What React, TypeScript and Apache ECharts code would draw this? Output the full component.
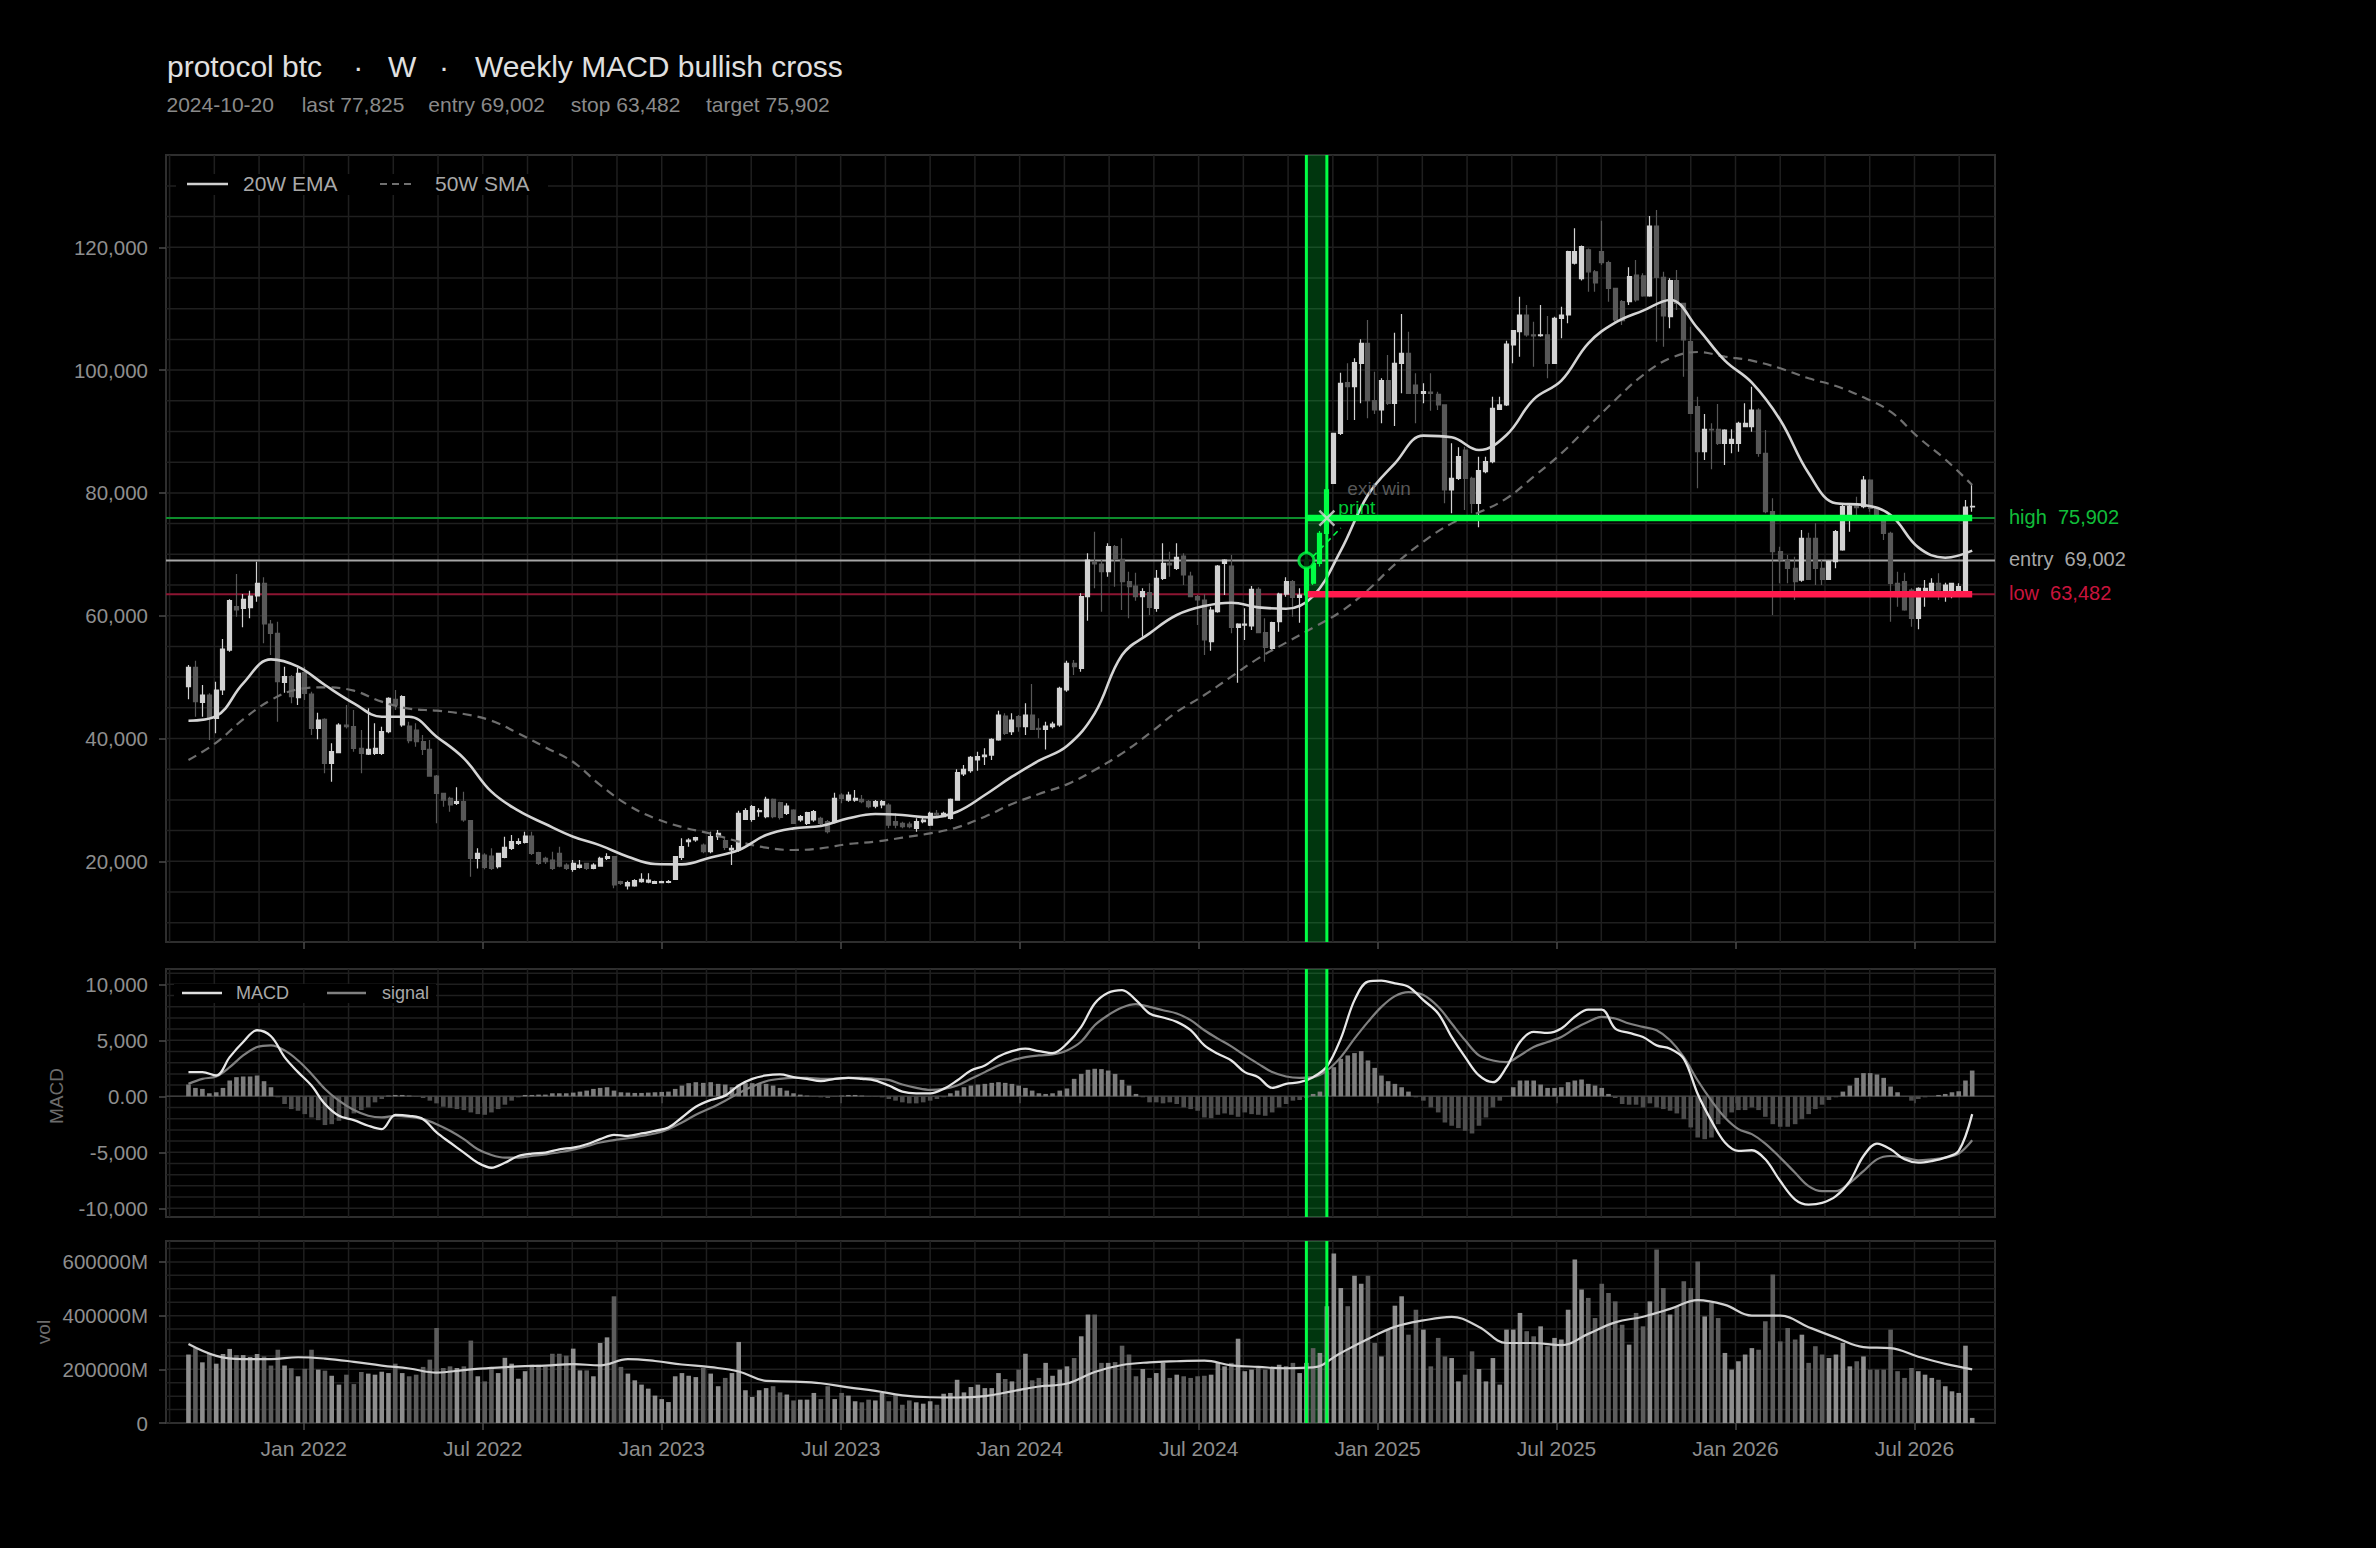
import React, { useEffect, useRef } from "react";
import * as echarts from "echarts";

// ---------- data (weekly, first week 2021-09-05) ----------
const START_DATE = Date.UTC(2021, 8, 5);
const WEEK_MS = 7 * 86400000;

const opens = [
  48440, 51590, 45890, 47080, 43280, 47900, 54410, 61470, 61200, 61310,
  63210, 65270, 58650, 57130, 49150, 50070, 46650, 50720, 47250, 41650,
  43120, 35950, 37690, 42200, 41930, 38400, 37470, 37580, 37580, 41110,
  46380, 42200, 42040, 41380, 39480, 38230, 33890, 31070, 30250, 29440,
  29710, 26620, 20480, 21020, 20860, 19120, 20650, 22110, 22920, 23090,
  24120, 21400, 20480, 20210, 21300, 19400, 18690, 19020, 19670, 18850,
  19230, 20480, 20750, 16680, 15980, 15980, 16680, 16620, 16410, 16520,
  16570, 17060, 20650, 23200, 23470, 22650, 21570, 24010, 23360, 21840,
  21840, 26830, 26830, 28080, 27270, 30090, 29550, 27810, 28350, 26730,
  26180, 26730, 27000, 26450, 26450, 30800, 29980, 29980, 30090, 29710,
  29000, 29170, 29170, 26450, 26180, 26070, 25370, 26450, 25910, 27810,
  27270, 27000, 29980, 34220, 34760, 36500, 37040, 37310, 39760, 43660,
  41110, 43550, 41930, 43830, 41650, 41490, 41930, 42200, 47900, 52240,
  51430, 63100, 68800, 68420, 67170, 71240, 69180, 65540, 64840, 63100,
  63750, 61200, 66090, 68530, 67710, 69720, 66470, 63100, 62560, 55770,
  60660, 68530, 68090, 58100, 58480, 58320, 64290, 57240, 54680, 59030,
  63530, 65540, 62990, 63400, 68500, 68500, 73400, 81560, 89700, 97950,
  97300, 101100, 104360, 95020, 93500, 98280, 94590, 101100, 102730, 97570,
  96220, 96430, 96050, 94320, 80470, 82370, 86990, 82370, 78300, 83460,
  85090, 93610, 94320, 104090, 106260, 108970, 105720, 105600, 105720, 101100,
  108430, 108970, 117400, 114900, 119600, 116000, 119300, 117500, 113320, 111150,
  111150, 115490, 115330, 112070, 123470, 115110, 108700, 114570, 110870, 104630,
  94040, 86710, 90350, 90350, 88070, 88070, 88070, 90790, 90790, 93500,
  86440, 76940, 70430, 69070, 67710, 65810, 72600, 72600, 67710, 65920,
  68800, 70700, 76400, 77870, 77760, 82100, 77480, 75860, 73410, 65270,
  65540, 64180, 59570, 63370, 63640, 65270, 63370, 63370, 63370, 63370,
  77700,
];

const closes = [
  51590, 46000, 47080, 43280, 47900, 54580, 62450, 60930, 62660, 63210,
  65270, 58650, 57130, 49260, 50070, 46810, 50610, 47360, 41650, 43010,
  35950, 37850, 42200, 41930, 38400, 37580, 38230, 38400, 41110, 46540,
  45460, 46810, 39650, 39480, 38230, 33890, 31070, 29980, 29170, 29710,
  26730, 20480, 21300, 19020, 18850, 21300, 22270, 23200, 23200, 24120,
  21300, 19670, 19940, 18850, 19230, 18850, 19670, 19400, 18850, 19400,
  20480, 20750, 16140, 16410, 16520, 16840, 17060, 16950, 16680, 16680,
  16680, 20750, 22380, 23470, 23850, 21570, 24010, 24550, 22270, 22110,
  27810, 28250, 28900, 28250, 30090, 27270, 27160, 29010, 26180, 27270,
  27920, 28080, 26180, 24820, 30250, 30250, 30800, 30250, 29710, 28900,
  29710, 29710, 25910, 25910, 25640, 25640, 26450, 26730, 27810, 27540,
  27810, 30090, 34430, 34980, 36930, 37040, 37310, 39860, 43820, 40840,
  43010, 41930, 43830, 41490, 41490, 42030, 42360, 48170, 52240, 51700,
  63100, 69070, 68420, 67170, 71240, 69180, 65540, 64730, 63100, 63910,
  61360, 66090, 68530, 68260, 69510, 66630, 63100, 62560, 56040, 60930,
  68090, 69070, 58100, 58650, 58650, 64290, 57240, 54850, 58860, 63530,
  65540, 62990, 63370, 69002, 65300, 73400, 80500, 89700, 97840, 97300,
  101210, 104360, 95020, 93500, 98280, 94590, 101100, 102730, 96220, 96220,
  96490, 96220, 94320, 80470, 82370, 85900, 82370, 78300, 83620, 85090,
  93770, 94320, 104250, 106420, 108970, 105720, 105550, 105720, 101100, 108430,
  108970, 119290, 119300, 120100, 116000, 114200, 117500, 113320, 108160, 108050,
  115220, 111420, 112070, 123470, 115110, 108810, 114570, 110870, 104900, 92960,
  86710, 90350, 90240, 88070, 90240, 88720, 91330, 91330, 93500, 86440,
  76940, 70430, 69070, 67710, 65540, 72600, 65920, 67710, 65920, 68800,
  73690, 77760, 77870, 77600, 82100, 77480, 75860, 73410, 65270, 63100,
  60930, 59570, 64460, 64460, 65270, 64180, 65000, 65270, 64730, 77700,
  77825,
];

const highs = [
  51970, 52670, 48710, 47360, 49260, 56200, 62660, 66790, 63530, 64080,
  68800, 66250, 59300, 59030, 51700, 50340, 51540, 51700, 47630, 44210,
  43280, 39210, 42470, 45460, 44640, 41380, 44910, 42470, 41930, 46700,
  47900, 47030, 42740, 42470, 40570, 39750, 34050, 31180, 30530, 32050,
  31340, 26730, 22110, 21300, 22110, 21400, 24010, 24280, 23740, 24820,
  24820, 21570, 20750, 21570, 22380, 19670, 20210, 20210, 19780, 19670,
  20750, 21300, 20860, 16840, 16840, 17060, 18040, 18040, 16840, 16840,
  16950, 20860, 23740, 23740, 24010, 22920, 24820, 25090, 23740, 22650,
  28250, 28630, 29170, 28630, 30530, 30250, 29710, 29440, 28460, 27540,
  28080, 28350, 27270, 26730, 31180, 31070, 31340, 31610, 30800, 29980,
  29980, 29980, 29440, 27810, 26450, 26450, 27000, 27270, 28080, 28350,
  28080, 30250, 34980, 35680, 37150, 37850, 38400, 40030, 44530, 44100,
  44100, 43830, 45730, 48880, 43280, 42740, 42740, 48440, 52680, 52780,
  63640, 70160, 73690, 69070, 71790, 71510, 72600, 67170, 67010, 64460,
  65270, 67440, 71790, 70430, 71790, 70160, 67170, 63370, 63530, 61470,
  68260, 69180, 69890, 58760, 61200, 64840, 64620, 59570, 59030, 63750,
  66250, 65810, 64460, 69600, 68900, 73800, 81600, 89810, 99580, 101100,
  101920, 105010, 108160, 99740, 98660, 102460, 106100, 109140, 106260, 99470,
  97840, 99470, 96490, 94320, 88070, 87420, 87530, 82640, 85900, 85900,
  95670, 95670, 104790, 106530, 111960, 110600, 107890, 110600, 108810, 108700,
  110330, 119450, 123090, 120300, 119800, 116300, 124340, 117820, 113430, 111420,
  116740, 117930, 115760, 125100, 126080, 116030, 114950, 116300, 110980, 107070,
  95670, 92850, 91330, 94480, 90350, 90350, 91600, 94590, 97300, 93770,
  90240, 79110, 71240, 69890, 69610, 73960, 73520, 75040, 69070, 68960,
  73960, 78190, 78030, 79390, 82750, 82210, 77760, 76130, 73690, 67170,
  67010, 64460, 64620, 65810, 66090, 66900, 65380, 65380, 65270, 78840,
  81290,
];

const lows = [
  46380, 43550, 43550, 39750, 40840, 47080, 54140, 59840, 58100, 59570,
  62280, 55500, 53600, 42740, 47470, 45730, 45460, 46270, 40570, 39860,
  34330, 32970, 37580, 41650, 37850, 34330, 37310, 37310, 37310, 40840,
  44640, 41930, 39210, 38670, 37310, 33780, 26180, 28900, 28080, 29170,
  26450, 17500, 18850, 18690, 18580, 18850, 20480, 21840, 22650, 22920,
  21020, 19400, 19560, 18580, 19020, 18580, 18310, 18850, 18580, 18690,
  19120, 20210, 15600, 16140, 15430, 15870, 16520, 16410, 16300, 16410,
  16410, 16950, 20210, 22380, 23200, 21300, 21300, 23470, 21840, 19400,
  21570, 26730, 26450, 27270, 27000, 27000, 26830, 27540, 26070, 26450,
  25910, 26450, 25910, 24550, 26180, 29440, 29710, 29710, 29440, 28630,
  28630, 28630, 25370, 25370, 25370, 25370, 24820, 26180, 25750, 27270,
  27160, 26830, 29870, 33890, 34430, 34760, 35680, 36500, 39650, 40570,
  40570, 41110, 40570, 41380, 40030, 38230, 41650, 41930, 47630, 50340,
  50880, 59190, 64460, 60660, 66360, 64730, 60930, 59570, 62450, 56580,
  60110, 60660, 65810, 66360, 67440, 65000, 62990, 58480, 53600, 54300,
  60490, 63370, 57130, 49090, 56040, 57670, 57130, 52510, 54410, 57400,
  63100, 59840, 58870, 62600, 65000, 68000, 72500, 81450, 89430, 91870,
  91870, 94590, 92140, 92850, 91330, 94320, 90890, 96220, 96110, 91330,
  94590, 93390, 93500, 78300, 76670, 82100, 77210, 76670, 74390, 83190,
  84810, 93500, 94150, 101100, 102190, 105440, 100560, 105440, 98660, 100990,
  105170, 107620, 117200, 114600, 112770, 112770, 117100, 111150, 107890, 107340,
  110600, 111150, 111960, 111960, 104630, 103820, 106800, 109790, 98930, 92850,
  80740, 85360, 83840, 87800, 84540, 86440, 86710, 90790, 89970, 85900,
  76670, 60110, 65270, 65270, 62560, 65540, 65810, 65000, 65000, 65810,
  67710, 70590, 73690, 75860, 77480, 76940, 75590, 72330, 59030, 61470,
  60820, 58210, 57780, 61470, 63100, 62560, 62290, 62830, 63100, 63210,
  76940,
];

// weekly volume, in millions
const volumes = [
  255000, 279000, 226000, 261000, 221000, 257000, 276000, 253000, 253000, 246000,
  257000, 248000, 214000, 273000, 214000, 204000, 174000, 202000, 273000, 199000,
  195000, 176000, 143000, 180000, 145000, 190000, 184000, 180000, 191000, 186000,
  221000, 186000, 174000, 180000, 209000, 236000, 354000, 205000, 211000, 205000,
  211000, 307000, 174000, 155000, 209000, 186000, 243000, 221000, 165000, 193000,
  217000, 217000, 209000, 258000, 258000, 251000, 277000, 196000, 196000, 174000,
  298000, 319000, 472000, 209000, 184000, 159000, 143000, 128000, 102000, 89000,
  78000, 174000, 186000, 176000, 171000, 205000, 184000, 137000, 168000, 186000,
  302000, 122000, 97000, 122000, 130000, 137000, 114000, 106000, 84000, 87000,
  87000, 112000, 89000, 137000, 89000, 112000, 102000, 81000, 77000, 87000,
  84000, 112000, 81000, 106000, 68000, 84000, 77000, 72000, 81000, 68000,
  109000, 112000, 161000, 114000, 134000, 143000, 130000, 130000, 186000, 164000,
  155000, 199000, 258000, 159000, 168000, 224000, 176000, 199000, 211000, 242000,
  323000, 404000, 404000, 224000, 224000, 227000, 288000, 255000, 174000, 201000,
  168000, 186000, 224000, 168000, 180000, 174000, 168000, 174000, 176000, 180000,
  224000, 211000, 224000, 314000, 193000, 199000, 205000, 199000, 205000, 217000,
  211000, 224000, 186000, 224000, 279000, 261000, 435000, 631000, 503000, 435000,
  549000, 519000, 549000, 298000, 248000, 348000, 437000, 472000, 329000, 422000,
  348000, 211000, 317000, 248000, 242000, 155000, 180000, 267000, 201000, 155000,
  242000, 143000, 348000, 348000, 410000, 342000, 323000, 360000, 286000, 317000,
  311000, 422000, 609000, 497000, 466000, 391000, 519000, 484000, 453000, 366000,
  292000, 410000, 360000, 453000, 646000, 503000, 404000, 435000, 528000, 503000,
  602000, 397000, 447000, 391000, 261000, 199000, 230000, 255000, 279000, 273000,
  379000, 553000, 304000, 354000, 311000, 329000, 224000, 286000, 255000, 242000,
  255000, 298000, 211000, 230000, 248000, 199000, 199000, 199000, 348000, 193000,
  168000, 205000, 193000, 180000, 168000, 161000, 137000, 118000, 112000, 288000,
  19000,
];

const macdHist = [
  1050, 750, 660, 270, 360, 750, 1410, 1710, 1770, 1770,
  1860, 1350, 810, -90, -690, -1140, -1290, -1590, -1890, -2130,
  -2570, -2490, -2190, -1890, -1530, -1230, -990, -540, -240, 60,
  120, 120, 60, -30, -150, -390, -630, -930, -1050, -1140,
  -1230, -1440, -1590, -1650, -1440, -1140, -750, -390, -90, 120,
  120, 150, 150, 270, 270, 270, 330, 420, 510, 660,
  750, 810, 510, 360, 330, 300, 300, 330, 360, 390,
  420, 660, 960, 1170, 1260, 1200, 1260, 1110, 1050, 810,
  1050, 1170, 1170, 1110, 1110, 960, 750, 510, 270, 150,
  60, -30, -90, -150, -30, 60, 120, 120, 60, -30,
  -30, -90, -240, -390, -540, -630, -630, -540, -390, -240,
  -90, 270, 510, 810, 960, 1050, 1110, 1200, 1260, 1200,
  1110, 960, 750, 510, 270, 210, 270, 510, 700, 1560,
  2000, 2370, 2460, 2430, 2300, 2000, 1470, 960, 210, -90,
  -540, -540, -630, -540, -690, -990, -1140, -1290, -1890, -1950,
  -1650, -1530, -1650, -1830, -1440, -1590, -1650, -1740, -1440, -990,
  -690, -390, -330, -150, 210, 420, 2250, 2600, 3350, 3650,
  3860, 4040, 3200, 2540, 1860, 1350, 1110, 810, 420, -90,
  -390, -990, -1440, -2340, -2630, -2840, -3080, -3320, -2630, -1890,
  -990, -390, -30, 810, 1410, 1410, 1410, 1050, 750, 750,
  810, 1260, 1410, 1500, 1110, 960, 750, 210, -150, -690,
  -750, -750, -990, -630, -990, -1140, -1290, -1530, -2040, -2780,
  -3680, -3830, -3680, -2490, -1890, -1440, -1230, -1230, -990, -1230,
  -1830, -2490, -2720, -2720, -2490, -2040, -1590, -1140, -750, -330,
  -90, 420, 960, 1650, 2070, 2070, 1950, 1650, 870, 360,
  -30, -390, -240, -90, -30, 120, 210, 360, 450, 1410,
  2300,
];

// indicator lines, one value every 4 weeks (weeks 0,4,...,260)
const ema20Every4 = [
  42900, 43660, 48980, 52890, 51700, 48710, 45730, 43550, 43550, 40300,
  36770, 31340, 28250, 26070, 24010, 22600, 20750, 19560, 19500, 20640,
  21840, 24280, 25370, 25750, 27000, 27700, 27540, 27160, 28080, 30800,
  33780, 36380, 38780, 44100, 53600, 57130, 60110, 61580, 62120, 61360,
  61140, 63200, 70600, 79650, 84810, 89320, 89050, 86980, 89430, 95240,
  98280, 104360, 107720, 109680, 111420, 106800, 101540, 97950, 91870, 83190,
  78300, 78030, 76400, 71130, 69450, 70590,
];
const sma50Every4 = [
  36500, 39320, 43120, 46270, 48010, 48330, 47790, 46000, 44860, 44530,
  43990, 42900, 40840, 38560, 36170, 32430, 29170, 27000, 25580, 24500,
  23200, 22220, 21840, 22110, 22820, 23200, 23850, 24550, 25530, 27270,
  29330, 30960, 32530, 34870, 37580, 40840, 44320, 47080, 50070, 53060,
  55610, 58050, 60660, 64190, 68370, 72060, 75040, 76830, 79110, 82640,
  86440, 90790, 95130, 99200, 101920, 102950, 102190, 101540, 100290, 98660,
  97410, 95560, 93230, 89050, 85460, 81290,
];
const volMaEvery4 = [
  294000, 250000, 238000, 238000, 245000, 240000, 228000, 214000, 203000, 188000,
  197000, 205000, 211000, 214000, 219000, 215000, 238000, 231000, 218000, 208000,
  192000, 157000, 154000, 148000, 133000, 120000, 103000, 96000, 95000, 100000,
  118000, 136000, 147000, 190000, 216000, 226000, 230000, 232000, 215000, 209000,
  204000, 207000, 261000, 313000, 358000, 382000, 395000, 358000, 298000, 298000,
  290000, 332000, 375000, 396000, 425000, 458000, 440000, 400000, 400000, 357000,
  318000, 283000, 279000, 247000, 220000, 200000,
];
// MACD and signal, one value every 2 weeks (weeks 0,2,...,260)
const macdEvery2 = [
  2156, 2156, 1856, 3500, 4850, 5900, 5360, 3500, 2156, 960,
  -690, -1740, -2130, -2630, -2930, -1650, -1740, -2040, -3230, -4130,
  -5030, -5930, -6380, -5930, -5330, -5120, -5030, -4730, -4580, -4280,
  -3830, -3440, -3530, -3320, -3080, -2780, -1890, -930, -330, 60,
  960, 1560, 1860, 1950, 1710, 1560, 1350, 1560, 1650, 1560,
  1410, 960, 420, 270, 270, 660, 1410, 2300, 2750, 3560,
  4040, 4250, 4040, 3860, 4700, 6200, 8290, 9250, 9490, 8590,
  7400, 7040, 6650, 5900, 4550, 3800, 3200, 2160, 1710, 750,
  1110, 1260, 1710, 2660, 5150, 8590, 10240, 10330, 10090, 9790,
  8590, 7400, 5300, 3500, 1860, 1260, 2600, 4850, 5750, 5660,
  6050, 7100, 7750, 7750, 6050, 5660, 5300, 4550, 4250, 3350,
  210, -2190, -4130, -4880, -4820, -5630, -7570, -9220, -9670, -9520,
  -8920, -7570, -5330, -4220, -4730, -5630, -5930, -5780, -5480, -4880,
  -1590,
];
const signalEvery2 = [
  1110, 1560, 1770, 2600, 3650, 4400, 4550, 4100, 3200, 2000,
  660, -390, -1230, -1740, -1890, -1740, -1830, -2040, -2490, -3080,
  -3830, -4730, -5240, -5480, -5480, -5330, -5180, -5000, -4760, -4460,
  -4130, -3920, -3740, -3530, -3320, -2930, -2340, -1650, -1050, -390,
  270, 870, 1350, 1560, 1650, 1650, 1560, 1560, 1650, 1650,
  1560, 1470, 1050, 750, 570, 660, 960, 1560, 2160, 2750,
  3200, 3500, 3650, 3740, 4100, 4900, 6350, 7250, 7930, 8230,
  7990, 7690, 7400, 6800, 5900, 5150, 4460, 3650, 2900, 2160,
  1770, 1650, 1710, 2300, 3500, 5150, 6650, 7990, 8950, 9310,
  9040, 7990, 6500, 5000, 3650, 3200, 3050, 3650, 4400, 4850,
  5300, 6050, 6650, 7100, 6950, 6500, 6200, 5900, 5000, 3500,
  1410, -390, -1890, -2930, -3380, -4220, -5480, -6830, -8020, -8470,
  -8470, -7720, -6680, -5630, -5330, -5480, -5720, -5630, -5480, -5120,
  -3920,
];

const ENTRY_WEEK = 163; // 2024-10-20
const EXIT_WEEK = 166; // 2024-11-10
const ENTRY_PRICE = 69002;
const STOP_PRICE = 63482;
const TARGET_PRICE = 75902;
const LAST_PRICE = 77825;

// axis ticks
const xMajorTicks = [12, 18, 24, 30, 36, 42, 48, 54, 60, 66]; // Jan/Jul, months since Jan 2021
const priceTicks = [20000, 40000, 60000, 80000, 100000, 120000];
const macdTicks = [-10000, -5000, 0, 5000, 10000];
const volTicks = [0, 200000, 400000, 600000];

// ---------- helpers ----------
const FONT = "'Liberation Sans', Arial, Helvetica, sans-serif";
const GRID_LINE = "#1f1f1f";
const TICK = "#4a4a4a";
const LABEL = "#8e8e8e";
const GREEN = "#00ff44";
const RED = "#ff1a4d";

function monthPos(ts: number): number {
  const d = new Date(ts);
  const y = d.getUTCFullYear();
  const m = d.getUTCMonth();
  const first = Date.UTC(y, m, 1);
  const next = Date.UTC(y, m + 1, 1);
  return (y - 2021) * 12 + m + (ts - first) / (next - first);
}
const weekX = (i: number) => monthPos(START_DATE + i * WEEK_MS);

const X_MIN = 7.38;
const X_MAX = 68.7;

function seq(a: number, b: number, step: number): number[] {
  const r: number[] = [];
  for (let v = a; v <= b + 1e-9; v += step) r.push(Math.round(v * 1000) / 1000);
  return r;
}
const xGridTicks = seq(7.5, 67.5, 1.5);
const priceGrid = seq(10000, 130000, 5000);
const macdGrid = seq(-10000, 11000, 1000);
const volGrid = seq(50000, 650000, 50000);

function fmtMonth(v: number): string {
  const r = Math.round(v);
  if (Math.abs(v - r) > 1e-6 || r % 6 !== 0) return "";
  const year = 2021 + Math.floor(r / 12);
  return (r % 12 === 0 ? "Jan " : "Jul ") + year;
}

function vLineSeries(g: number, ys: number, values: number[], color: string, width: number, z: number) {
  return {
    type: "custom",
    xAxisIndex: g,
    yAxisIndex: g,
    z,
    silent: true,
    data: values.map((v) => [v, ys]),
    encode: { x: 0, y: 1 },
    renderItem: (params: any, api: any) => {
      const cs = params.coordSys;
      const x = api.coord([api.value(0), api.value(1)])[0];
      return {
        type: "line",
        shape: { x1: x, y1: cs.y, x2: x, y2: cs.y + cs.height },
        style: { stroke: color, lineWidth: width },
      };
    },
  };
}

function hLineSeries(g: number, xs: number, values: number[], colors: string[], width: number, z: number) {
  return {
    type: "custom",
    xAxisIndex: g,
    yAxisIndex: g,
    z,
    silent: true,
    data: values.map((v) => [xs, v]),
    encode: { x: 0, y: 1 },
    renderItem: (params: any, api: any) => {
      const cs = params.coordSys;
      const y = api.coord([api.value(0), api.value(1)])[1];
      return {
        type: "line",
        shape: { x1: cs.x, y1: y, x2: cs.x + cs.width, y2: y },
        style: { stroke: colors[params.dataIndex % colors.length], lineWidth: width },
      };
    },
  };
}

function windowFill(g: number, ymid: number) {
  return {
    type: "custom",
    xAxisIndex: g,
    yAxisIndex: g,
    z: 1,
    silent: true,
    data: [[weekX(ENTRY_WEEK), ymid, weekX(EXIT_WEEK)]],
    encode: { x: [0, 2], y: 1 },
    renderItem: (params: any, api: any) => {
      const cs = params.coordSys;
      const x1 = api.coord([api.value(0), api.value(1)])[0];
      const x2 = api.coord([api.value(2), api.value(1)])[0];
      return {
        type: "rect",
        shape: { x: x1, y: cs.y, width: x2 - x1, height: cs.height },
        style: { fill: "rgba(0,255,68,0.21)" },
      };
    },
  };
}

function buildOption(): any {
  const n = closes.length;
  const entryX = weekX(ENTRY_WEEK);
  const exitX = weekX(EXIT_WEEK);
  const lastX = weekX(n - 1);

  const candleData = closes.map((c, i) => {
    const item: any = { value: [weekX(i), opens[i], c, lows[i], highs[i]] };
    if (i >= ENTRY_WEEK && i <= EXIT_WEEK) {
      item.itemStyle = { color: GREEN, color0: GREEN, borderColor: GREEN, borderColor0: GREEN };
    }
    return item;
  });

  const every = (arr: number[], step: number) => arr.map((v, k) => [weekX(k * step), v]);

  const grids = [
    { left: 166, top: 155, width: 1829, height: 787 },
    { left: 166, top: 969, width: 1829, height: 248 },
    { left: 166, top: 1241, width: 1829, height: 182 },
  ].map((g) => ({ ...g, show: true, borderColor: "#2e2e2e", borderWidth: 2, backgroundColor: "transparent" }));

  const xAxisFor = (g: number) => ({
    type: "value",
    gridIndex: g,
    min: X_MIN,
    max: X_MAX,
    axisLine: { show: false },
    splitLine: { show: false },
    axisTick: { show: true, customValues: xMajorTicks, length: 7, lineStyle: { color: TICK, width: 1.5 } },
    axisLabel: {
      show: g === 2,
      customValues: xMajorTicks,
      formatter: fmtMonth,
      color: LABEL,
      fontSize: 21,
      margin: 15,
      fontFamily: FONT,
    },
  });

  const yAxisFor = (g: number, min: number, max: number, ticks: number[], fmt: (v: number) => string) => ({
    type: "value",
    gridIndex: g,
    min,
    max,
    axisLine: { show: false },
    splitLine: { show: false },
    axisTick: { show: true, customValues: ticks, length: 7, lineStyle: { color: TICK, width: 1.5 } },
    axisLabel: {
      customValues: ticks,
      formatter: (v: number) => (ticks.indexOf(v) >= 0 ? fmt(v) : ""),
      color: LABEL,
      fontSize: 20.5,
      margin: 18,
      fontFamily: FONT,
    },
  });

  const P_MIN = 6860, P_MAX = 135030;
  const M_MIN = -10780, M_MAX = 11370;
  const V_MIN = 0, V_MAX = 678000;

  const labelScatter = (x: number, y: number, text: string, color: string, offset: number[], size: number) => ({
    type: "scatter",
    xAxisIndex: 0,
    yAxisIndex: 0,
    z: 12,
    silent: true,
    clip: false,
    symbolSize: 0,
    data: [[x, y]],
    label: {
      show: true,
      position: "right",
      distance: 0,
      offset,
      formatter: text,
      color,
      fontSize: size,
      fontFamily: FONT,
      align: "left",
      verticalAlign: "middle",
    },
  });

  const series: any[] = [
    // ----- main panel -----
    vLineSeries(0, 50000, xGridTicks, GRID_LINE, 1.5, 0),
    hLineSeries(0, 30, priceGrid, [GRID_LINE], 1.5, 0),
    windowFill(0, 50000),
    hLineSeries(0, 30, [TARGET_PRICE, ENTRY_PRICE, STOP_PRICE], ["#0d8c2c", "#a6a6a6", "#8c1532"], 2, 3),
    {
      type: "candlestick",
      xAxisIndex: 0,
      yAxisIndex: 0,
      z: 4,
      barWidth: 4.5,
      data: candleData,
      itemStyle: {
        color: "#d2d2d2",
        color0: "#585858",
        borderColor: "#d2d2d2",
        borderColor0: "#585858",
        borderWidth: 1.2,
      },
    },
    {
      type: "line",
      xAxisIndex: 0,
      yAxisIndex: 0,
      z: 5,
      data: every(sma50Every4, 4),
      smooth: 0.4,
      showSymbol: false,
      symbol: "none",
      lineStyle: { color: "#6e6e6e", width: 2.2, type: [9, 6] },
    },
    {
      type: "line",
      xAxisIndex: 0,
      yAxisIndex: 0,
      z: 5,
      data: every(ema20Every4, 4),
      smooth: 0.4,
      showSymbol: false,
      symbol: "none",
      lineStyle: { color: "#d4d4d4", width: 2.6 },
    },
    {
      type: "line",
      xAxisIndex: 0,
      yAxisIndex: 0,
      z: 6,
      data: [[entryX, TARGET_PRICE], [lastX, TARGET_PRICE]],
      showSymbol: false,
      symbol: "none",
      lineStyle: { color: GREEN, width: 6.5, cap: "butt" },
    },
    {
      type: "line",
      xAxisIndex: 0,
      yAxisIndex: 0,
      z: 6,
      data: [[entryX, STOP_PRICE], [lastX, STOP_PRICE]],
      showSymbol: false,
      symbol: "none",
      lineStyle: { color: RED, width: 6.5, cap: "butt" },
    },
    {
      type: "line",
      xAxisIndex: 0,
      yAxisIndex: 0,
      z: 7,
      data: [[weekX(163.9), 69560], [weekX(168), 74280]],
      showSymbol: false,
      symbol: "none",
      lineStyle: { color: GREEN, width: 1.6, type: [6, 4] },
    },
    vLineSeries(0, 50000, [entryX, exitX], GREEN, 3, 9),
    {
      type: "scatter",
      xAxisIndex: 0,
      yAxisIndex: 0,
      z: 10,
      silent: true,
      clip: false,
      symbol: "circle",
      symbolSize: 15,
      data: [[entryX, ENTRY_PRICE]],
      itemStyle: { color: "#000", borderColor: GREEN, borderWidth: 3 },
    },
    {
      type: "scatter",
      xAxisIndex: 0,
      yAxisIndex: 0,
      z: 10,
      silent: true,
      clip: false,
      symbol: "path://M0,0L10,10M10,0L0,10",
      symbolSize: 15,
      data: [[exitX, TARGET_PRICE]],
      itemStyle: { color: "rgba(0,0,0,0)", borderColor: "#dcdcdc", borderWidth: 2.4 },
    },
    labelScatter(exitX, TARGET_PRICE, "exit win", "#6f6f6f", [20.5, -30], 19),
    labelScatter(exitX, TARGET_PRICE, "print", GREEN, [11.5, -10.5], 19),
    labelScatter(X_MAX, TARGET_PRICE, "high  " + TARGET_PRICE.toLocaleString("en-US"), "#16f04a", [14, -1], 20),
    labelScatter(X_MAX, ENTRY_PRICE, "entry  " + ENTRY_PRICE.toLocaleString("en-US"), "#d4d4d4", [14, -1], 20),
    labelScatter(X_MAX, STOP_PRICE, "low  " + STOP_PRICE.toLocaleString("en-US"), RED, [14, -1], 20),

    // ----- MACD panel -----
    vLineSeries(1, 0, xGridTicks, GRID_LINE, 1.5, 0),
    hLineSeries(1, 30, macdGrid, [GRID_LINE], 1.5, 0),
    hLineSeries(1, 30, [0], ["#3c3c3c"], 1.5, 1),
    windowFill(1, 0),
    {
      type: "bar",
      xAxisIndex: 1,
      yAxisIndex: 1,
      z: 3,
      barWidth: 4.6,
      data: macdHist.map((v, i) => [weekX(i), v]),
      itemStyle: {
        color: (p: any) => (p.value[1] >= 0 ? "#7c7c7c" : "#4c4c4c"),
      },
    },
    {
      type: "line",
      xAxisIndex: 1,
      yAxisIndex: 1,
      z: 5,
      data: every(signalEvery2, 2),
      smooth: 0.35,
      showSymbol: false,
      symbol: "none",
      lineStyle: { color: "#808080", width: 2.2 },
    },
    {
      type: "line",
      xAxisIndex: 1,
      yAxisIndex: 1,
      z: 6,
      data: every(macdEvery2, 2),
      smooth: 0.35,
      showSymbol: false,
      symbol: "none",
      lineStyle: { color: "#e6e6e6", width: 2.3 },
    },
    vLineSeries(1, 0, [entryX, exitX], GREEN, 3, 9),

    // ----- volume panel -----
    vLineSeries(2, 100000, xGridTicks, GRID_LINE, 1.5, 0),
    hLineSeries(2, 30, volGrid, [GRID_LINE], 1.5, 0),
    windowFill(2, 100000),
    {
      type: "bar",
      xAxisIndex: 2,
      yAxisIndex: 2,
      z: 3,
      barWidth: 4.6,
      data: volumes.map((v, i) => [weekX(i), v]),
      itemStyle: {
        color: (p: any) => (closes[p.dataIndex] >= opens[p.dataIndex] ? "#8e8e8e" : "#5c5c5c"),
      },
    },
    {
      type: "line",
      xAxisIndex: 2,
      yAxisIndex: 2,
      z: 5,
      data: every(volMaEvery4, 4),
      smooth: 0.4,
      showSymbol: false,
      symbol: "none",
      lineStyle: { color: "#d0d0d0", width: 2.2 },
    },
    vLineSeries(2, 100000, [entryX, exitX], GREEN, 3, 9),
  ];

  const txt = (x: number, y: number, text: string, fill: string, size: number, align = "left", rotation = 0) => ({
    type: "text",
    x,
    y,
    z: 20,
    rotation,
    silent: true,
    style: {
      text,
      fill,
      fontSize: size,
      fontFamily: FONT,
      font: `${size}px ${FONT}`,
      align,
      textAlign: align,
      verticalAlign: "middle",
      textVerticalAlign: "middle",
    },
  });
  const seg = (x1: number, x2: number, y: number, stroke: string, width: number, dash?: number[]) => ({
    type: "line",
    z: 20,
    silent: true,
    shape: { x1, y1: y, x2, y2: y },
    style: { stroke, lineWidth: width, lineDash: dash },
  });
  const box = (x: number, y: number, w: number, h: number) => ({
    type: "rect",
    z: 15,
    silent: true,
    shape: { x, y, width: w, height: h },
    style: { fill: "#000000" },
  });

  const graphic = [
    txt(167, 66.3, "protocol btc", "#e0e0e0", 30),
    txt(358.3, 66.3, "·", "#e0e0e0", 30, "center"),
    txt(388, 66.3, "W", "#e0e0e0", 30),
    txt(444, 66.3, "·", "#e0e0e0", 30, "center"),
    txt(475, 66.3, "Weekly MACD bullish cross", "#e0e0e0", 30),
    txt(166.5, 104.4, "2024-10-20", "#8a8a8a", 21),
    txt(301.7, 104.4, "last " + LAST_PRICE.toLocaleString("en-US"), "#8a8a8a", 21),
    txt(428.3, 104.4, "entry " + ENTRY_PRICE.toLocaleString("en-US"), "#8a8a8a", 21),
    txt(570.7, 104.4, "stop " + STOP_PRICE.toLocaleString("en-US"), "#8a8a8a", 21),
    txt(706, 104.4, "target " + TARGET_PRICE.toLocaleString("en-US"), "#8a8a8a", 21),
    // main legend (with a dark key background, as in the reference)
    box(176, 174, 372, 21),
    seg(187, 228, 184, "#d0d0d0", 2.7),
    txt(243, 183.7, "20W EMA", "#a8a8a8", 21),
    seg(380, 415, 184, "#707070", 2.2, [7, 5]),
    txt(435, 183.7, "50W SMA", "#a8a8a8", 21),
    // MACD legend
    box(174, 984, 262, 19),
    seg(182, 222, 993, "#e0e0e0", 2.7),
    txt(236, 993, "MACD", "#a8a8a8", 18),
    seg(327, 366, 993, "#808080", 2.4),
    txt(382, 993, "signal", "#a8a8a8", 18),
    // axis names
    txt(56.4, 1096, "MACD", "#6c6c6c", 19, "center", Math.PI / 2),
    txt(43, 1332, "vol", "#6c6c6c", 19, "center", Math.PI / 2),
  ];

  return {
    animation: false,
    backgroundColor: "#000000",
    textStyle: { fontFamily: FONT },
    grid: grids,
    xAxis: [xAxisFor(0), xAxisFor(1), xAxisFor(2)],
    yAxis: [
      yAxisFor(0, P_MIN, P_MAX, priceTicks, (v) => v.toLocaleString("en-US")),
      yAxisFor(1, M_MIN, M_MAX, macdTicks, (v) => (v === 0 ? "0.00" : v.toLocaleString("en-US"))),
      yAxisFor(2, V_MIN, V_MAX, volTicks, (v) => (v === 0 ? "0" : v + "M")),
    ],
    series,
    graphic,
  };
}

export default function App() {
  const ref = useRef<HTMLDivElement>(null);
  useEffect(() => {
    document.body.style.margin = "0";
    document.body.style.background = "#000";
    const chart = echarts.init(ref.current!, null, { renderer: "svg" });
    chart.setOption(buildOption());
    return () => chart.dispose();
  }, []);
  return <div ref={ref} style={{ width: 2376, height: 1548, background: "#000" }} />;
}
